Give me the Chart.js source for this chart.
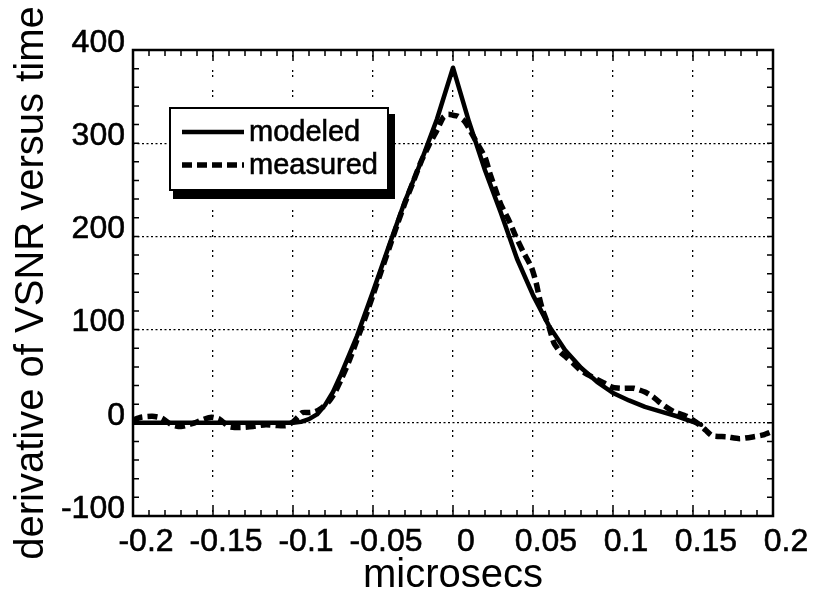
<!DOCTYPE html>
<html><head><meta charset="utf-8">
<script src="https://cdn.jsdelivr.net/npm/chart.js@4.4.0/dist/chart.umd.min.js"></script>
<style>html,body{margin:0;padding:0;background:#fff}#wrap{width:813px;height:600px}</style>
</head><body><div id="wrap"><canvas id="c" width="813" height="600"></canvas></div>
<script>
const xTitle = 'microsecs';
const yTitle = 'derivative of VSNR versus time';
const seriesNames = ['modeled', 'measured'];

const modeledX = [-0.2, -0.15, -0.1, -0.095, -0.09, -0.085, -0.08, -0.075, -0.07, -0.06, -0.05, -0.04, -0.03, -0.02, -0.01, 0,
  0.01, 0.02, 0.03, 0.04, 0.05, 0.06, 0.07, 0.08, 0.09, 0.1, 0.11, 0.12, 0.13, 0.14, 0.155];
const modeledY = [0, 0, 0, 1, 4, 9, 19, 33, 52, 93, 141, 190, 238, 280, 326, 381,
  323, 271, 225, 176, 137, 104, 78, 59, 44, 32, 24, 17, 12, 7, -2];

const measuredX = [-0.2, -0.195, -0.188, -0.182, -0.176, -0.17, -0.163, -0.157, -0.151, -0.146, -0.14, -0.133, -0.125, -0.117, -0.11, -0.104,
  -0.1, -0.097, -0.094, -0.09, -0.086, -0.082, -0.078, -0.074, -0.07, -0.065, -0.06, -0.055, -0.05, -0.045, -0.04, -0.035, -0.03, -0.025,
  -0.02, -0.015, -0.01, -0.006, -0.003, 0, 0.003, 0.007, 0.01, 0.015, 0.02, 0.023, 0.026, 0.03, 0.035, 0.039, 0.044, 0.049, 0.052,
  0.054, 0.056, 0.06, 0.063, 0.067, 0.071, 0.075, 0.08, 0.086, 0.094, 0.1, 0.106, 0.113, 0.12, 0.125, 0.129, 0.134, 0.138, 0.146,
  0.154, 0.158, 0.162, 0.171, 0.179, 0.188, 0.194, 0.2];
const measuredY = [3, 6, 7, 5, -2, -4, -1, 3, 6, 4, -4, -5, -4, -2, -3, -3,
  1, 6, 11, 11, 12, 16, 22, 32, 46, 66, 89, 112, 137, 162, 187, 212, 236, 258,
  280, 298, 314, 328, 331, 330, 329, 324, 316, 300, 285, 268, 253, 234, 217, 201, 183, 167, 150,
  134, 121, 103, 86, 76, 70, 64, 56, 50, 43, 38, 37, 37, 33, 28, 22, 16, 12, 7,
  -2, -8, -14, -15, -17, -15, -13, -9];

const xTickValues = [-0.2, -0.15, -0.1, -0.05, 0, 0.05, 0.1, 0.15, 0.2];
const yTickValues = [-100, 0, 100, 200, 300, 400];

const FONT = "'Liberation Sans', Arial, Helvetica, sans-serif";

const framePlugin = {
  id: 'frame',
  afterDraw(chart) {
    const {ctx, chartArea: a, scales: {x, y}} = chart;
    ctx.save();
    ctx.strokeStyle = '#000';
    ctx.lineWidth = 1.5;
    for (let i = 0; i <= 40; i++) {
      const px = x.getPixelForValue(-0.2 + i * 0.01);
      const len = (i % 5 === 0) ? 11 : 6;
      ctx.beginPath();
      ctx.moveTo(px, a.bottom); ctx.lineTo(px, a.bottom - len);
      ctx.moveTo(px, a.top); ctx.lineTo(px, a.top + len);
      ctx.stroke();
    }
    for (let j = 0; j <= 25; j++) {
      const py = y.getPixelForValue(-100 + j * 20);
      const len = 6;
      ctx.beginPath();
      ctx.moveTo(a.left, py); ctx.lineTo(a.left + len, py);
      ctx.moveTo(a.right, py); ctx.lineTo(a.right - len, py);
      ctx.stroke();
    }
    ctx.lineWidth = 2.5;
    ctx.strokeRect(a.left, a.top, a.right - a.left, a.bottom - a.top);
    ctx.restore();
  }
};

const legendPlugin = {
  id: 'boxLegend',
  afterDraw(chart) {
    const ctx = chart.ctx;
    const bx = 170, by = 108, bw = 218, bh = 82;
    ctx.save();
    ctx.fillStyle = '#000';
    ctx.fillRect(bx + 3, by + 6, bw + 4, bh + 3);
    ctx.fillStyle = '#fff';
    ctx.fillRect(bx, by, bw, bh);
    ctx.strokeStyle = '#000';
    ctx.lineWidth = 2;
    ctx.strokeRect(bx, by, bw, bh);
    ctx.font = '29px ' + FONT;
    ctx.textBaseline = 'middle';
    ctx.textAlign = 'left';
    chart.data.datasets.forEach((ds, i) => {
      const ly = by + 24 + i * 33;
      ctx.beginPath();
      ctx.setLineDash(ds.borderDash || []);
      ctx.lineWidth = ds.borderWidth;
      ctx.moveTo(bx + 12, ly); ctx.lineTo(bx + 74, ly);
      ctx.stroke();
      ctx.setLineDash([]);
      ctx.fillStyle = '#000';
      ctx.lineWidth = 0.6;
      ctx.fillText(ds.label, bx + 79, ly + 1);
      ctx.strokeText(ds.label, bx + 79, ly + 1);
    });
    ctx.restore();
  }
};

const toPoints = (xs, ys) => xs.map((v, i) => ({x: v, y: ys[i]}));

new Chart(document.getElementById('c'), {
  type: 'line',
  data: {
    datasets: [
      {label: seriesNames[0], data: toPoints(modeledX, modeledY), borderColor: '#000', borderWidth: 4.5,
       pointRadius: 0, tension: 0, fill: false, borderJoinStyle: 'round', borderCapStyle: 'round'},
      {label: seriesNames[1], data: toPoints(measuredX, measuredY), borderColor: '#000', borderWidth: 5.5,
       borderDash: [10, 5], pointRadius: 0, tension: 0.2, fill: false}
    ]
  },
  options: {
    responsive: false,
    animation: false,
    devicePixelRatio: 1,
    layout: {padding: {top: 50, right: 40, left: 0, bottom: 0}},
    plugins: {legend: {display: false}, tooltip: {enabled: false}},
    scales: {
      x: {
        type: 'linear', min: -0.2, max: 0.2,
        afterBuildTicks: s => { s.ticks = xTickValues.map(v => ({value: v})); },
        afterFit: s => { s.height = 84; },
        grid: {color: '#000', lineWidth: 1.3, drawTicks: false},
        border: {display: false, dash: [2, 3, 2, 13]},
        ticks: {color: '#000', font: {family: FONT, size: 32}, padding: 7, labelOffset: 13,
                textStrokeColor: '#000', textStrokeWidth: 0.6,
                maxRotation: 0, autoSkip: false, callback: v => String(v)},
        title: {display: true, text: xTitle, color: '#000', font: {family: FONT, size: 40}, padding: {top: 0, bottom: 0}}
      },
      y: {
        type: 'linear', min: -100, max: 400,
        afterBuildTicks: s => { s.ticks = yTickValues.map(v => ({value: v})); },
        afterFit: s => { s.width = 133; },
        grid: {color: '#000', lineWidth: 1.3, drawTicks: false},
        border: {display: false, dash: [2, 2.5]},
        ticks: {color: '#000', font: {family: FONT, size: 32}, padding: 8, labelOffset: -7,
                textStrokeColor: '#000', textStrokeWidth: 0.6, callback: v => String(v)},
        title: {display: true, text: yTitle, color: '#000', font: {family: FONT, size: 40}, padding: {top: 8, bottom: 0}}
      }
    }
  },
  plugins: [framePlugin, legendPlugin]
});
</script>
</body></html>
